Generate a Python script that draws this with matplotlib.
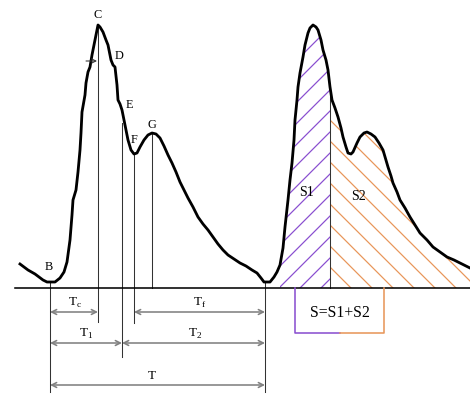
import numpy as np
import matplotlib
matplotlib.use("Agg")
import matplotlib.pyplot as plt

# pulse waveform (pixel-like units, y grows downward)
wave_x = [20, 28, 35, 43, 47, 55, 60, 64, 67, 70, 72, 73, 76, 78, 80, 81, 82, 85, 86, 88,
          90, 92, 95, 97, 98, 100, 103, 106, 108, 111, 113, 115, 117, 118, 120, 122, 124,
          126, 128, 131, 134, 137, 140, 144, 148, 152, 156, 160, 164, 168, 172, 176, 180,
          184, 188, 193, 198, 203, 208, 213, 218, 223, 228, 234, 240, 246, 252, 257, 261,
          264, 270, 274, 277, 280, 283, 285, 288, 290, 292, 294, 295, 297, 298, 300, 303,
          305, 308, 310, 313, 316, 318, 321, 323, 326, 328, 330, 332, 335, 338, 341, 343,
          346, 348, 351, 353, 357, 360, 364, 367, 371, 375, 379, 383, 386, 388, 391, 393,
          397, 400, 405, 410, 415, 420, 427, 433, 440, 447, 454, 460, 466, 470]
wave_y = [264, 270, 274, 280, 282, 282, 278, 272, 262, 240, 215, 200, 190, 172, 150, 133,
          112, 95, 83, 72, 67, 55, 40, 30, 25, 27, 32, 40, 45, 60, 65, 67, 85, 100, 104, 110,
          120, 130, 140, 150, 154, 153, 147, 140, 135, 133, 134, 138, 146, 155, 163, 172,
          182, 190, 198, 207, 217, 224, 230, 237, 244, 250, 255, 259, 263, 266, 270, 273,
          278, 282, 282, 277, 272, 265, 248, 227, 200, 180, 163, 140, 120, 100, 87, 73, 57,
          45, 33, 28, 25, 27, 30, 40, 50, 60, 70, 87, 100, 108, 117, 128, 137, 147, 153,
          154, 152, 143, 137, 133, 132, 134, 137, 143, 150, 160, 167, 176, 183, 192, 200,
          208, 217, 225, 233, 240, 247, 252, 257, 260, 263, 266, 268]

baseline = 288
# point labels
point_names = ["B", "C", "D", "E", "F", "G"]
point_x = [49, 98, 119, 129, 134, 152]
point_y = [267, 15, 56, 105, 140, 125]

# marker lines: x, top, bottom
mark_x = [50, 98, 122, 134, 152, 265, 330]
mark_top = [282, 25, 123, 155, 133, 282, 87]
mark_bot = [392, 322, 357, 323, 288, 392, 288]

# time intervals: start, end, y, label, label x
spans = [(50, 98, 312, r"T$_\mathregular{c}$", 75),
         (134, 265, 312, r"T$_\mathregular{f}$", 200),
         (50, 122, 343, r"T$_\mathregular{1}$", 86),
         (122, 265, 343, r"T$_\mathregular{2}$", 195),
         (50, 265, 385, "T", 152)]

split_x = 330
area_start = 280

plt.rcParams["hatch.linewidth"] = 0.7
fig = plt.figure(figsize=(470 / 126, 394 / 126), dpi=126)
ax = fig.add_axes([0, 0, 1, 1])
ax.set_xlim(0, 470)
ax.set_ylim(394, 0)
ax.axis("off")

wx = np.array(wave_x)
wy = np.array(wave_y)

# hatched areas S1 / S2
left = (wx >= area_start) & (wx <= split_x)
right = wx >= split_x
ax.fill_between(wx, wy, baseline, where=left, facecolor="none", edgecolor="#8a4fd0",
                hatch="//", linewidth=0)
ax.fill_between(wx, wy, baseline, where=right, facecolor="none", edgecolor="#e8965a",
                hatch="\\\\", linewidth=0)

# vertical markers
for x, t, b in zip(mark_x, mark_top, mark_bot):
    ax.plot([x, x], [t, b], color="#333333", lw=0.6)

# baseline and waveform
ax.plot([15, 470], [baseline, baseline], color="black", lw=0.9)
ax.plot(wx, wy, color="black", lw=1.6, solid_joinstyle="round")

# point letters
for name, x, y in zip(point_names, point_x, point_y):
    ax.text(x, y, name, fontsize=7, family="Liberation Serif", ha="center", va="center")

# small arrow next to C
ax.annotate("", xy=(97, 61), xytext=(86, 61),
            arrowprops=dict(arrowstyle="->", color="#333333", lw=0.6,
                            shrinkA=0, shrinkB=0, mutation_scale=6))

# interval arrows
for x0, x1, y, lab, lx in spans:
    ax.annotate("", xy=(x0, y), xytext=(x1, y),
                arrowprops=dict(arrowstyle="<->", color="#808080", lw=0.9,
                                shrinkA=0, shrinkB=0, mutation_scale=7))
    ax.text(lx, y - 9, lab, fontsize=7.5, family="Liberation Serif", ha="center", va="center")

# S labels and box
ax.text(307, 192, "S1", fontsize=8, family="Liberation Serif", ha="center", va="center")
ax.text(358, 196, "S2", fontsize=8, family="Liberation Serif", ha="center", va="center")
ax.plot([295, 295, 340], [baseline, 333, 333], color="#8a4fd0", lw=0.9)
ax.plot([340, 384, 384], [333, 333, baseline], color="#e8965a", lw=0.9)
ax.text(340, 313, "S=S1+S2", fontsize=9, family="Liberation Serif", ha="center", va="center")

fig.savefig("out.png", dpi=126)
